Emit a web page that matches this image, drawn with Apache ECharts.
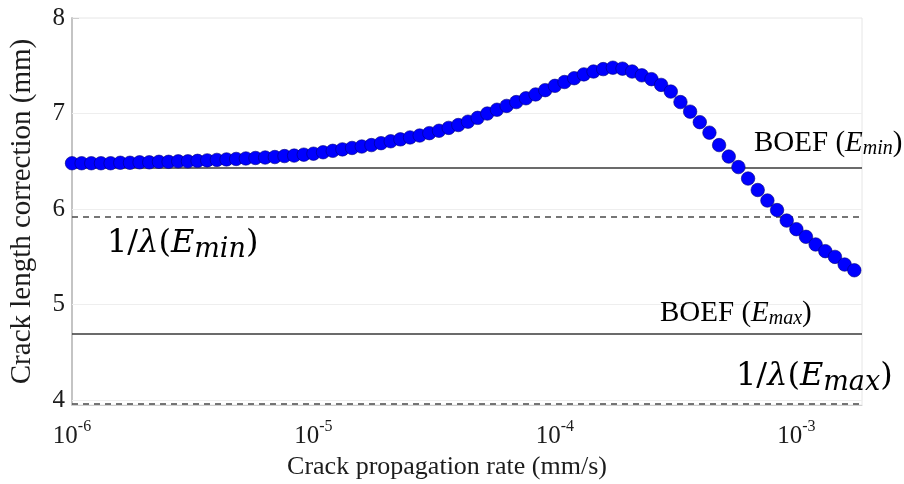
<!DOCTYPE html>
<html>
<head>
<meta charset="utf-8">
<script src="https://cdn.jsdelivr.net/npm/echarts@6/dist/echarts.min.js"></script>
<style>html,body{margin:0;padding:0;background:#fff}#c{width:904px;height:484px}</style>
</head>
<body>
<div id="c"></div>
<script>
// Crack propagation rate (mm/s)
const rates = [
  1.000e-6,1.096e-6,1.202e-6,1.318e-6,1.445e-6,1.585e-6,1.738e-6,1.905e-6,2.089e-6,2.291e-6,
  2.512e-6,2.754e-6,3.020e-6,3.311e-6,3.631e-6,3.981e-6,4.365e-6,4.786e-6,5.248e-6,5.754e-6,
  6.310e-6,6.918e-6,7.586e-6,8.318e-6,9.120e-6,
  1.000e-5,1.096e-5,1.202e-5,1.318e-5,1.445e-5,1.585e-5,1.738e-5,1.905e-5,2.089e-5,2.291e-5,
  2.512e-5,2.754e-5,3.020e-5,3.311e-5,3.631e-5,3.981e-5,4.365e-5,4.786e-5,5.248e-5,5.754e-5,
  6.310e-5,6.918e-5,7.586e-5,8.318e-5,9.120e-5,
  1.000e-4,1.096e-4,1.202e-4,1.318e-4,1.445e-4,1.585e-4,1.738e-4,1.905e-4,2.089e-4,2.291e-4,
  2.512e-4,2.754e-4,3.020e-4,3.311e-4,3.631e-4,3.981e-4,4.365e-4,4.786e-4,5.248e-4,5.754e-4,
  6.310e-4,6.918e-4,7.586e-4,8.318e-4,9.120e-4,
  1.000e-3,1.096e-3,1.202e-3,1.318e-3,1.445e-3,1.585e-3,1.738e-3
];
// Crack length correction (mm)
const corrections = [
  6.48,6.48,6.48,6.48,6.48,6.485,6.485,6.49,6.49,6.495,
  6.495,6.50,6.50,6.505,6.51,6.515,6.52,6.525,6.53,6.535,
  6.54,6.545,6.555,6.56,6.57,
  6.58,6.595,6.61,6.625,6.64,6.655,6.67,6.69,6.71,6.73,
  6.75,6.77,6.795,6.82,6.85,6.88,6.915,6.955,7.00,7.04,
  7.08,7.12,7.16,7.20,7.245,
  7.29,7.33,7.37,7.41,7.44,7.465,7.48,7.47,7.44,7.40,
  7.36,7.30,7.23,7.12,7.02,6.91,6.80,6.67,6.55,6.44,
  6.32,6.20,6.09,5.99,5.88,
  5.79,5.71,5.63,5.56,5.50,5.42,5.36
];
// Reference levels (mm)
const boefLevels = [6.43, 4.70];        // BOEF (E_min), BOEF (E_max)
const lambdaLevels = [5.92, 3.955];     // 1/λ(E_min), 1/λ(E_max)
const yTickValues = [4, 5, 6, 7, 8];
const xTickExponents = ['-6', '-5', '-4', '-3'];
const xMin = 1e-6, xMax = 1.87e-3, yMin = 3.95, yMax = 8;

const data = rates.map((r, i) => [r, corrections[i]]);

// log-axis grid lines (decades and 2..9 minors)
const vGrid = [];
for (let d = -6; d <= -3; d++) {
  for (let m = 1; m <= 9; m++) {
    const v = m * Math.pow(10, d);
    if (v > xMin * 1.0001 && v < xMax) vGrid.push({ xAxis: v });
  }
}
const hGrid = yTickValues.filter(v => v > yMin && v < yMax).map(v => ({ yAxis: v }));

const serif = 'Liberation Serif';
const ink = '#1c1c1c';
const boefRich = {
  n: { fontFamily: serif, fontSize: 29, color: ink, lineHeight: 32 },
  e: { fontFamily: serif, fontStyle: 'italic', fontSize: 29, color: ink, lineHeight: 32 },
  s: { fontFamily: serif, fontStyle: 'italic', fontSize: 20, color: ink, lineHeight: 32, padding: [12, 0, 0, 0] }
};
const lamRich = {
  n: { fontFamily: 'DejaVu Serif', fontSize: 32, color: ink, lineHeight: 38 },
  e: { fontFamily: 'DejaVu Serif', fontStyle: 'italic', fontSize: 32, color: ink, lineHeight: 38 },
  s: { fontFamily: 'DejaVu Serif', fontStyle: 'italic', fontSize: 27, color: ink, lineHeight: 38, padding: [12, 0, 0, 0] }
};

const chart = echarts.init(document.getElementById('c'), null, { renderer: 'canvas' });
chart.setOption({
  animation: false,
  backgroundColor: '#fff',
  grid: {
    left: 72, right: 42, top: 18, bottom: 79, containLabel: false, outerBoundsMode: 'none',
    show: true, borderColor: '#e6e6e6', borderWidth: 1
  },
  xAxis: {
    type: 'log', logBase: 10, min: xMin, max: xMax,
    name: 'Crack propagation rate (mm/s)', nameLocation: 'middle', nameGap: 46,
    nameTextStyle: { fontFamily: serif, fontSize: 26, color: ink, padding: [0, 40, 0, 0] },
    axisLine: { show: true, lineStyle: { color: '#cfcfcf', width: 1 } },
    axisTick: { show: false },
    splitLine: { show: false },
    axisLabel: {
      margin: 14,
      formatter: function (v) {
        const e = Math.round(Math.log10(v));
        if (Math.abs(Math.log10(v) - e) > 1e-6) return '';
        const idx = xTickExponents.indexOf(String(e));
        if (idx < 0) return '';
        return '{b|10}{t|' + xTickExponents[idx] + '}';
      },
      rich: {
        b: { fontFamily: serif, fontSize: 25, color: ink, lineHeight: 30, verticalAlign: 'bottom' },
        t: { fontFamily: serif, fontSize: 16, color: ink, lineHeight: 16, verticalAlign: 'top' }
      }
    }
  },
  yAxis: {
    type: 'value', min: yMin, max: yMax,
    name: 'Crack length correction (mm)', nameLocation: 'middle', nameGap: 35,
    nameTextStyle: { fontFamily: serif, fontSize: 29, color: ink },
    axisLine: { show: true, lineStyle: { color: '#c4c4c4', width: 2 } },
    axisTick: { show: true, inside: true, length: 7, customValues: yTickValues, lineStyle: { color: '#cfcfcf' } },
    splitLine: { show: false },
    axisLabel: { customValues: yTickValues, margin: 7, fontFamily: serif, fontSize: 25, color: ink }
  },
  series: [
    {
      type: 'scatter', data: [], silent: true, z: 1,
      markLine: {
        silent: true, symbol: 'none', label: { show: false }, animation: false,
        lineStyle: { color: '#eeeeee', width: 1, type: 'solid' },
        data: vGrid.concat(hGrid)
      }
    },
    {
      type: 'scatter', data: [], silent: true, z: 2,
      markLine: {
        silent: true, symbol: 'none', label: { show: false }, animation: false,
        data: [
          { yAxis: boefLevels[0], lineStyle: { color: '#3a3a3a', width: 1.6, type: 'solid' } },
          { yAxis: boefLevels[1], lineStyle: { color: '#3a3a3a', width: 1.6, type: 'solid' } },
          { yAxis: lambdaLevels[0], lineStyle: { color: '#4a4a4a', width: 1.6, type: [6, 5] } },
          { yAxis: lambdaLevels[1], lineStyle: { color: '#4a4a4a', width: 1.6, type: [6, 5] } }
        ]
      }
    },
    {
      type: 'scatter', data: data, z: 5,
      symbol: 'circle', symbolSize: 13.5,
      itemStyle: { color: '#0000ff', borderColor: '#00007a', borderWidth: 0.6, opacity: 1 }
    }
  ],
  graphic: [
    { type: 'text', left: 754, top: 127, z: 100, style: { text: '{n|BOEF (}{e|E}{s|min}{n|)}', rich: boefRich } },
    { type: 'text', left: 660, top: 297, z: 100, style: { text: '{n|BOEF (}{e|E}{s|max}{n|)}', rich: boefRich } },
    { type: 'text', left: 107, top: 224, z: 100, style: { text: '{n|1/}{e|λ}{n|(}{e|E}{s|min}{n|)}', rich: lamRich } },
    { type: 'text', left: 736, top: 357, z: 100, style: { text: '{n|1/}{e|λ}{n|(}{e|E}{s|max}{n|)}', rich: lamRich } }
  ]
});
</script>
</body>
</html>
